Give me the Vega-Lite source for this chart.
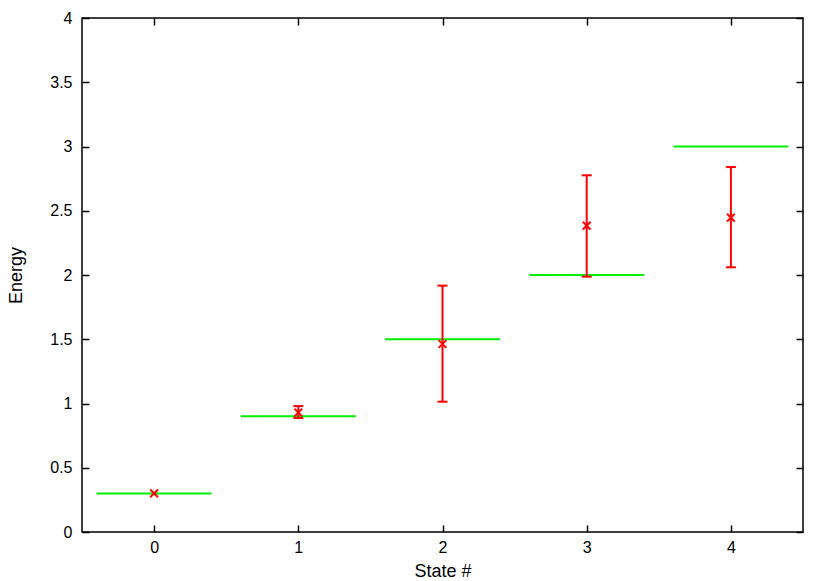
{
  "$schema": "https://vega.github.io/schema/vega-lite/v6.json",
  "autosize": {"type": "none"},
  "width": 721,
  "height": 514,
  "padding": {"left": 82, "top": 18, "right": 27, "bottom": 49},
  "background": "white",
  "config": {
    "view": {"stroke": "black", "strokeWidth": 1.5},
    "font": "Liberation Sans",
    "axis": {
      "grid": false,
      "domain": false,
      "tickColor": "black",
      "tickSize": -7,
      "tickWidth": 1.5,
      "labelFont": "Liberation Sans",
      "labelFontSize": 16,
      "labelColor": "black",
      "titleFont": "Liberation Sans",
      "titleFontSize": 18,
      "titleFontWeight": "normal",
      "titleColor": "black"
    }
  },
  "data": {
    "values": [
      {"state": 0, "exact": 0.3, "estimate": 0.3, "lo": null, "hi": null},
      {"state": 1, "exact": 0.9, "estimate": 0.93, "lo": 0.887, "hi": 0.98},
      {"state": 2, "exact": 1.5, "estimate": 1.463, "lo": 1.014, "hi": 1.917},
      {"state": 3, "exact": 2.0, "estimate": 2.384, "lo": 1.987, "hi": 2.776},
      {"state": 4, "exact": 3.0, "estimate": 2.446, "lo": 2.06, "hi": 2.84}
    ]
  },
  "layer": [
    {
      "mark": {"type": "tick", "orient": "horizontal", "color": "#00ee00", "size": 115, "thickness": 2, "opacity": 1},
      "encoding": {
        "x": {"field": "state", "type": "quantitative",
          "scale": {"domain": [-0.5, 4.5], "nice": false, "zero": false},
          "axis": {"values": [0, 1, 2, 3, 4], "format": "d", "title": "State #", "labelPadding": 14, "titlePadding": 7}},
        "y": {"field": "exact", "type": "quantitative",
          "scale": {"domain": [0, 4], "nice": false},
          "axis": {"values": [0, 0.5, 1, 1.5, 2, 2.5, 3, 3.5, 4], "format": "~g", "title": "Energy", "labelPadding": 17, "titlePadding": 24}}
      }
    },
    {
      "mark": {"type": "rule", "color": "#ff0000", "strokeWidth": 2},
      "encoding": {
        "x": {"field": "state", "type": "quantitative", "axis": null},
        "y": {"field": "lo", "type": "quantitative", "axis": null},
        "y2": {"field": "hi"}
      }
    },
    {
      "mark": {"type": "tick", "orient": "horizontal", "color": "#ff0000", "size": 10, "thickness": 2, "opacity": 1},
      "encoding": {
        "x": {"field": "state", "type": "quantitative", "axis": null},
        "y": {"field": "lo", "type": "quantitative", "axis": null}
      }
    },
    {
      "mark": {"type": "tick", "orient": "horizontal", "color": "#ff0000", "size": 10, "thickness": 2, "opacity": 1},
      "encoding": {
        "x": {"field": "state", "type": "quantitative", "axis": null},
        "y": {"field": "hi", "type": "quantitative", "axis": null}
      }
    },
    {
      "mark": {"type": "point", "shape": "M-1,-1L1,1M-1,1L1,-1", "filled": false, "color": "#ff0000", "strokeWidth": 2, "size": 60, "opacity": 1},
      "encoding": {
        "x": {"field": "state", "type": "quantitative", "axis": null},
        "y": {"field": "estimate", "type": "quantitative", "axis": null}
      }
    },
    {
      "mark": {"type": "rule", "opacity": 0},
      "encoding": {
        "x": {"field": "state", "type": "quantitative",
          "axis": {"orient": "top", "values": [0, 1, 2, 3, 4], "labels": false, "title": null}},
        "y": {"field": "exact", "type": "quantitative",
          "axis": {"orient": "right", "values": [0, 0.5, 1, 1.5, 2, 2.5, 3, 3.5, 4], "labels": false, "title": null}}
      }
    }
  ],
  "resolve": {"axis": {"x": "independent", "y": "independent"}}
}
